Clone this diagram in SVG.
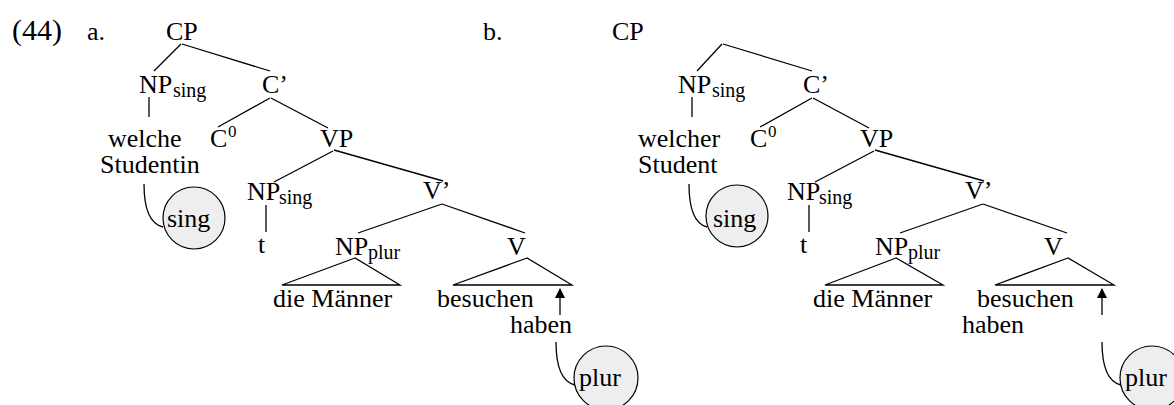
<svg xmlns="http://www.w3.org/2000/svg" width="1174" height="405" viewBox="0 0 1174 405">
  <style>
    text { font-family: "Liberation Serif", "Times New Roman", serif; font-size: 26px; fill: #000; }
    .num { font-size: 30px; }
    .sub { font-size: 20px; }
    .sup { font-size: 17px; }
    .edge { stroke: #000; stroke-width: 1.3; fill: none; }
    .feat { fill: #eeeeee; stroke: #000; stroke-width: 1.2; }
  </style>
  <defs>
    <marker id="head" viewBox="0 0 10 10" refX="9" refY="5" markerWidth="10" markerHeight="10" markerUnits="userSpaceOnUse" orient="auto">
      <path d="M0,0 L10,5 L0,10 z" fill="#000"/>
    </marker>
  </defs>
  <rect width="1174" height="405" fill="#fff"/>

  <!-- example number and sub-labels -->
  <g id="labels">
    <text class="num" x="12" y="40">(44)</text>
    <text x="87" y="40">a.</text>
    <text x="483" y="40">b.</text>
  </g>

  <!-- connectors -->
  <g id="edges" class="edge">
    <!-- tree a -->
    <line x1="181" y1="44" x2="154" y2="71"/>
    <line x1="182" y1="44" x2="270" y2="71"/>
    <line x1="149" y1="97" x2="149" y2="117"/>
    <line x1="270" y1="98" x2="218" y2="127"/>
    <line x1="271" y1="98" x2="328" y2="128"/>
    <line x1="333" y1="151" x2="274" y2="182"/>
    <line x1="334" y1="150" x2="443" y2="181"/>
    <line x1="266" y1="205" x2="266" y2="232"/>
    <line x1="442" y1="204" x2="358" y2="233"/>
    <line x1="442" y1="204" x2="525" y2="233"/>
    <path d="M355,258 L282,285 L400,285 Z"/>
    <path d="M527,258 L453,285 L572,285 Z"/>
    <line x1="560" y1="315" x2="560" y2="289" marker-end="url(#head)"/>
    <path d="M144,184 C144,208 150,224 163,227"/>
    <path d="M556,342 C556,366 562,382 575,385"/>
    <!-- tree b -->
    <line x1="722" y1="44" x2="697" y2="71"/>
    <line x1="723" y1="44" x2="812" y2="71"/>
    <line x1="692" y1="97" x2="692" y2="117"/>
    <line x1="812" y1="98" x2="760" y2="127"/>
    <line x1="813" y1="98" x2="869" y2="128"/>
    <line x1="874" y1="151" x2="815" y2="182"/>
    <line x1="875" y1="150" x2="984" y2="181"/>
    <line x1="809" y1="205" x2="809" y2="232"/>
    <line x1="983" y1="204" x2="900" y2="233"/>
    <line x1="983" y1="204" x2="1067" y2="233"/>
    <path d="M896,258 L825,285 L943,285 Z"/>
    <path d="M1068,258 L995,285 L1114,285 Z"/>
    <line x1="1102" y1="315" x2="1102" y2="289" marker-end="url(#head)"/>
    <path d="M689,184 C689,208 695,224 707,227"/>
    <path d="M1102,342 C1102,366 1108,382 1121,385"/>
  </g>

  <!-- tree a nodes -->
  <g id="a-cp"><text x="166" y="40">CP</text></g>
  <g id="a-np-sing"><text x="139" y="93">NP</text><text class="sub" x="173" y="97">sing</text></g>
  <g id="a-cbar"><text x="262" y="93">C’</text></g>
  <g id="a-welche"><text x="108" y="147">welche</text><text x="100" y="173">Studentin</text></g>
  <g id="a-c0"><text x="210" y="147">C</text><text class="sup" x="228" y="137">0</text></g>
  <g id="a-vp"><text x="320" y="147">VP</text></g>
  <g id="a-np-sing-2"><text x="247" y="200">NP</text><text class="sub" x="279" y="204">sing</text></g>
  <g id="a-t"><text x="258" y="253">t</text></g>
  <g id="a-vbar"><text x="423" y="199">V’</text></g>
  <g id="a-np-plur"><text x="335" y="255">NP</text><text class="sub" x="368" y="259">plur</text></g>
  <g id="a-v"><text x="507" y="255">V</text></g>
  <g id="a-die-maenner"><text x="273" y="307">die Männer</text></g>
  <g id="a-besuchen"><text x="437" y="307">besuchen</text></g>
  <g id="a-haben"><text x="510" y="333">haben</text></g>
  <g id="a-sing"><circle class="feat" cx="194" cy="218" r="31"/><text x="167" y="227">sing</text></g>
  <g id="a-plur"><circle class="feat" cx="606" cy="378" r="32"/><text x="579" y="386">plur</text></g>

  <!-- tree b nodes -->
  <g id="b-cp"><text x="612" y="40">CP</text></g>
  <g id="b-np-sing"><text x="678" y="93">NP</text><text class="sub" x="712" y="97">sing</text></g>
  <g id="b-cbar"><text x="803" y="93">C’</text></g>
  <g id="b-welcher"><text x="638" y="147">welcher</text><text x="638" y="173">Student</text></g>
  <g id="b-c0"><text x="750" y="147">C</text><text class="sup" x="768" y="137">0</text></g>
  <g id="b-vp"><text x="860" y="147">VP</text></g>
  <g id="b-np-sing-2"><text x="787" y="200">NP</text><text class="sub" x="819" y="204">sing</text></g>
  <g id="b-t"><text x="800" y="253">t</text></g>
  <g id="b-vbar"><text x="965" y="199">V’</text></g>
  <g id="b-np-plur"><text x="875" y="255">NP</text><text class="sub" x="908" y="259">plur</text></g>
  <g id="b-v"><text x="1044" y="255">V</text></g>
  <g id="b-die-maenner"><text x="813" y="307">die Männer</text></g>
  <g id="b-besuchen"><text x="977" y="307">besuchen</text></g>
  <g id="b-haben"><text x="962" y="333">haben</text></g>
  <g id="b-sing"><circle class="feat" cx="737" cy="216" r="31"/><text x="713" y="227">sing</text></g>
  <g id="b-plur"><circle class="feat" cx="1152" cy="378" r="32"/><text x="1125" y="386">plur</text></g>
</svg>
